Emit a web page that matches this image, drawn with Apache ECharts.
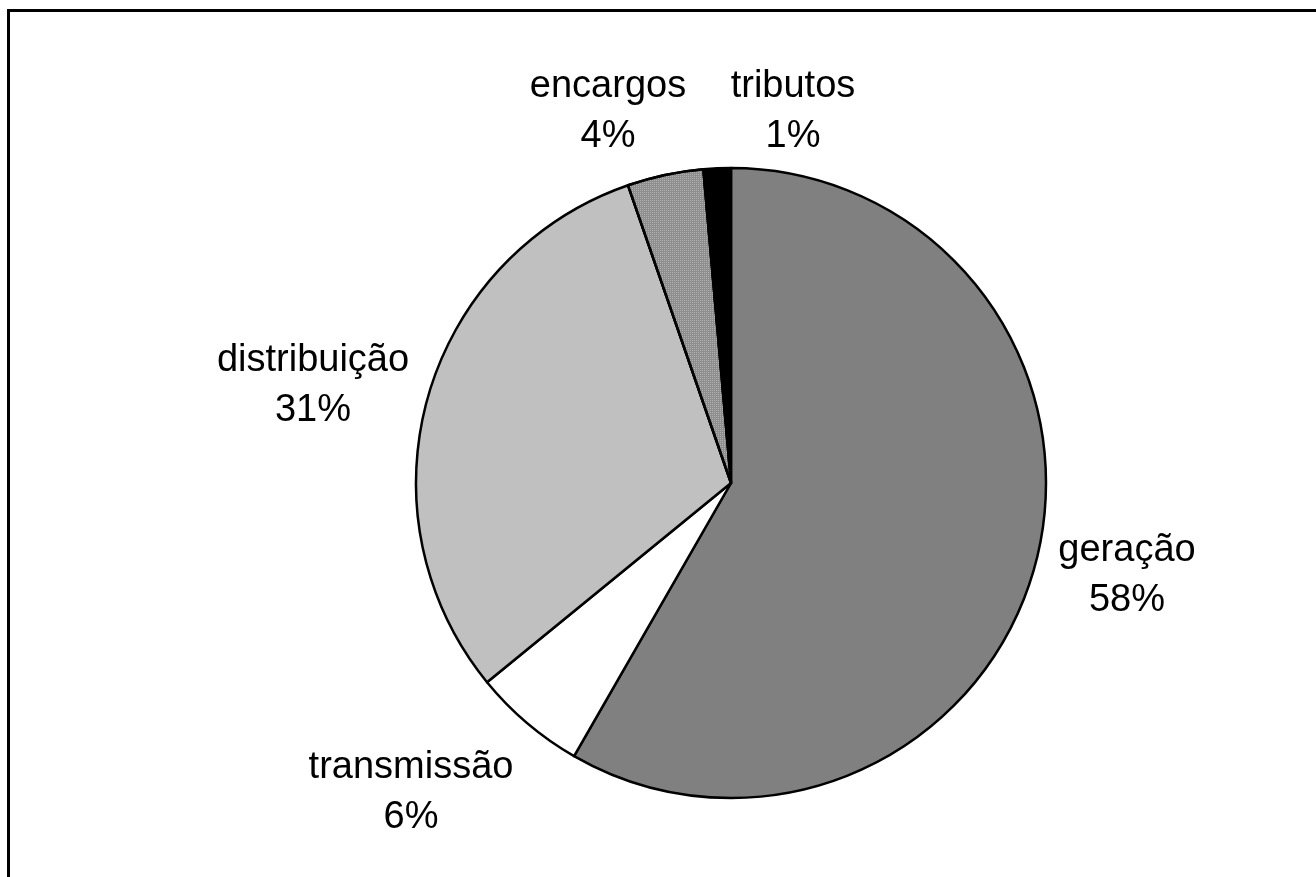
<!DOCTYPE html>
<html>
<head>
<meta charset="utf-8">
<script src="https://cdn.jsdelivr.net/npm/echarts@6/dist/echarts.min.js"></script>
<style>
  html, body { margin: 0; padding: 0; background: #fff; }
  #chart { width: 1316px; height: 877px; }
</style>
</head>
<body>
<div id="chart"></div>
<script>
// data (share of the tariff, %)
var categories = ['geração', 'transmissão', 'distribuição', 'encargos', 'tributos'];
var values = [58.3, 5.8, 30.6, 3.9, 1.4];
var sliceColors = ['#808080', '#ffffff', '#c0c0c0', '#8e8e8e', '#000000'];

// label placement, relative to the pie centre (px)
var cx = 731, cy = 483;
var labelOffsets = [[396, 93], [-320, 310], [-418, -97], [-123, -371], [62, -371]];

var chart = echarts.init(document.getElementById('chart'));

var pieData = [];
for (var i = 0; i < categories.length; i++) {
  var item = {
    name: categories[i],
    value: values[i],
    itemStyle: { color: sliceColors[i] }
  };
  if (categories[i] == 'encargos') {
    item.itemStyle.decal = {
      symbol: 'rect',
      symbolSize: 1,
      color: 'rgba(200,200,200,0.6)',
      dashArrayX: [1, 1],
      dashArrayY: [1, 1],
      rotation: 0
    };
  }
  pieData.push(item);
}

var option = {
  backgroundColor: '#ffffff',
  animation: false,
  graphic: [
    {
      type: 'rect',
      shape: { x: 8.5, y: 10.5, width: 1400, height: 1000 },
      style: { fill: 'none', stroke: '#000', lineWidth: 3 },
      silent: true
    }
  ],
  series: [
    {
      type: 'pie',
      center: [cx, cy],
      radius: [0, 315],
      startAngle: 90,
      clockwise: true,
      avoidLabelOverlap: false,
      itemStyle: { borderColor: '#000', borderWidth: 2.5 },
      label: {
        show: true,
        position: 'outside',
        fontFamily: 'Liberation Sans, Arial, sans-serif',
        fontSize: 38,
        lineHeight: 50,
        color: '#000',
        align: 'center',
        formatter: function (p) {
          return p.name + '\n' + Math.round(p.value) + '%';
        }
      },
      labelLine: { show: false },
      labelLayout: function (params) {
        var off = labelOffsets[params.dataIndex];
        return {
          x: cx + off[0],
          y: cy + off[1],
          align: 'center',
          verticalAlign: 'middle'
        };
      },
      emphasis: { disabled: true },
      data: pieData
    }
  ]
};

chart.setOption(option);
</script>
</body>
</html>
